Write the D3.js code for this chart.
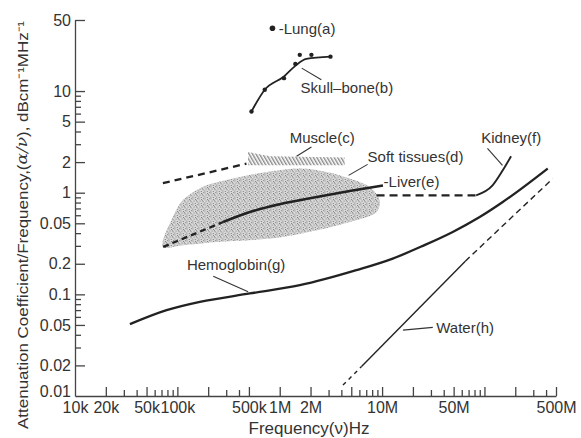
<!DOCTYPE html>
<html>
<head>
<meta charset="utf-8">
<script src="https://cdn.jsdelivr.net/npm/d3@7"></script>
<style>
  html, body { margin: 0; padding: 0; background: #fff; }
  svg { display: block; font-family: "Liberation Sans", Arial, sans-serif; }
</style>
</head>
<body>
<svg id="chart" width="581" height="438"></svg>
<script>
/* Attenuation coefficient / frequency of tissues vs frequency, log-log.
   Values (Hz, dB cm-1 MHz-1). */

// axis ticks
const xLabelValues = [1e4, 2e4, 5e4, 1e5, 5e5, 1e6, 2e6, 1e7, 5e7, 5e8];
const xLabelText   = ['10k', '20k', '50k', '100k', '500k', '1M', '2M', '10M', '50M', '500M'];
const xMajorTicks  = [2e4, 5e4, 1e5, 2e5, 5e5, 1e6, 2e6, 5e6, 1e7, 2e7, 5e7, 1e8, 2e8, 5e8];
const xMinorTicks  = [3e4, 4e4, 6e4, 7e4, 8e4, 9e4, 3e5, 4e5, 3e6, 4e6, 6e6, 7e6, 8e6, 9e6,
                      3e7, 4e7, 6e7, 7e7, 8e7, 9e7, 3e8, 4e8];
const yLabelValues = [50, 10, 5, 2, 1, 0.5, 0.2, 0.1, 0.05, 0.02, 0.01];
const yLabelText   = ['50', '10', '5', '2', '1', '0.05', '0.2', '0.1', '0.05', '0.02', '0.01'];
const yMajorTicks  = [50, 10, 5, 2, 1, 0.5, 0.2, 0.1, 0.05, 0.02];
const yMinorTicks  = [9, 8, 7, 6, 4, 3, 0.9, 0.8, 0.7, 0.6, 0.4, 0.3,
                      0.09, 0.08, 0.07, 0.06, 0.04, 0.03];

// (a) lung
const lungF = [849e3];
const lungV = [41.5];
// (b) skull bone
const skullF = [530e3, 714e3, 1.10e6, 1.43e6, 1.82e6, 3.13e6];
const skullV = [6.3, 10.3, 13.9, 17.8, 20.7, 21.8];
const skullDotF = [530e3, 714e3, 1.10e6, 1.42e6, 1.57e6, 2.04e6, 3.13e6];
const skullDotV = [6.3, 10.3, 13.4, 18.5, 22.7, 22.7, 21.8];
// (c) muscle
const muscleDashF = [72.2e3, 473e3];
const muscleDashV = [1.24, 1.93];
const muscleTopF = [491e3, 800e3, 4.31e6];
const muscleTopV = [2.51, 2.28, 2.22];
const muscleBotF = [4.31e6, 491e3];
const muscleBotV = [1.86, 1.86];
// (d) soft tissues
const softTopF = [72.2e3, 90.4e3, 113e3, 177e3, 348e3, 747e3, 1.57e6, 2.88e6, 4.82e6, 7.55e6, 9.46e6];
const softTopV = [0.293, 0.577, 0.842, 1.14, 1.38, 1.60, 1.73, 1.60, 1.38, 1.14, 0.842];
const softBotF = [8.83e6, 4.82e6, 2.30e6, 1.07e6, 510e3, 243e3, 113e3];
const softBotV = [0.646, 0.515, 0.427, 0.367, 0.341, 0.328, 0.304];
// (e) liver
const liverDashF = [72.7e3, 280e3];
const liverDashV = [0.293, 0.515];
const liverF = [280e3, 510e3, 1.07e6, 2.30e6, 4.82e6, 10.2e6];
const liverV = [0.515, 0.646, 0.782, 0.907, 1.04, 1.18];
// (f) kidney
const kidneyDashF = [8.83e6, 83e6];
const kidneyDashV = [0.943, 0.943];
const kidneyF = [83e6, 120e6, 151e6, 182e6];
const kidneyV = [0.943, 1.18, 1.66, 2.28];
// (g) hemoglobin
const hemoF = [34.4e3, 78.5e3, 166e3, 510e3, 1.57e6, 5.6e6, 12.7e6, 25e6, 49e6, 89e6, 151e6, 415e6];
const hemoV = [0.051, 0.070, 0.0844, 0.102, 0.123, 0.173, 0.225, 0.30, 0.411, 0.573, 0.81, 1.73];
// (h) water
const waterLowF = [4.15e6, 6.3e6];
const waterLowV = [0.0128, 0.0195];
const waterF = [6.3e6, 65e6];
const waterV = [0.0195, 0.212];
const waterHighF = [65e6, 464e6];
const waterHighV = [0.212, 1.375];

// labels (left edge, vertical centre) and leader lines
const labelText = ['-Lung(a)', 'Skull\u2013bone(b)', 'Muscle(c)', 'Soft tissues(d)', '-Liver(e)',
                   'Kidney(f)', 'Hemoglobin(g)', 'Water(h)'];
const labelF = [977e3, 1.60e6, 1.25e6, 7.22e6, 10.35e6, 92.9e6, 124e3, 33.8e6];
const labelV = [41.2, 10.8, 3.50, 2.28, 1.27, 3.46, 0.194, 0.0466];
const leaderF1 = [1.64e6, 1.46e6, 4.71e6, 107e6, 224e3, 16.0e6];
const leaderV1 = [16.8, 2.28, 1.48, 2.73, 0.151, 0.0445];
const leaderF2 = [2.55e6, 2.04e6, 7.22e6, 150e6, 491e3, 31.3e6];
const leaderV2 = [12.9, 2.81, 1.90, 1.86, 0.106, 0.0473];

const INK = '#222';
const TXT = '#333';

const svg = d3.select('#chart');
svg.append('rect').attr('width', 581).attr('height', 438).attr('fill', '#fff');

const x = d3.scaleLog().domain([1e4, 5e8]).range([75, 556]);
const y = d3.scaleLog().domain([0.01, 50]).range([396, 20]);

const pts = (fs, vs) => fs.map((f, i) => [f, vs[i]]);
const straight = d3.line().x(d => x(d[0])).y(d => y(d[1]));
const smooth = d3.line().x(d => x(d[0])).y(d => y(d[1])).curve(d3.curveMonotoneX);
const blob = d3.line().x(d => x(d[0])).y(d => y(d[1])).curve(d3.curveCatmullRomClosed.alpha(0.5));

// textures
const defs = svg.append('defs');
const stip = defs.append('pattern').attr('id', 'stipple')
  .attr('patternUnits', 'userSpaceOnUse').attr('width', 6).attr('height', 6);
stip.append('rect').attr('width', 6).attr('height', 6).attr('fill', '#d9d9d9');
[[0.5, 0.5], [3.2, 1.1], [1.6, 2.6], [4.7, 3.4], [0.4, 4.6], [2.8, 5.0], [5.3, 0.2], [3.9, 2.3]]
  .forEach(p => stip.append('rect').attr('x', p[0]).attr('y', p[1])
    .attr('width', 0.9).attr('height', 0.9).attr('fill', '#666'));
const hatch = defs.append('pattern').attr('id', 'hatch')
  .attr('patternUnits', 'userSpaceOnUse').attr('width', 3).attr('height', 10)
  .attr('patternTransform', 'rotate(-30)');
hatch.append('line').attr('x1', 0.8).attr('x2', 0.8).attr('y1', 0).attr('y2', 10)
  .attr('stroke', '#444').attr('stroke-width', 0.9);

// axes
const gx = svg.append('g').attr('transform', 'translate(0,396)');
gx.append('g').call(d3.axisBottom(x).tickValues(xMinorTicks).tickSize(-6).tickSizeOuter(0).tickFormat(''))
  .call(g => g.select('.domain').remove());
gx.append('g').call(d3.axisBottom(x).tickValues(xMajorTicks).tickSize(-9).tickSizeOuter(0).tickFormat(''));
gx.append('g').call(d3.axisBottom(x).tickValues(xLabelValues).tickSize(0).tickPadding(5.5)
    .tickFormat((d, i) => xLabelText[i]))
  .call(g => g.select('.domain').remove());

const gy = svg.append('g').attr('transform', 'translate(75,0)');
gy.append('g').call(d3.axisLeft(y).tickValues(yMinorTicks).tickSize(-6).tickSizeOuter(0).tickFormat(''))
  .call(g => g.select('.domain').remove());
gy.append('g').call(d3.axisLeft(y).tickValues(yMajorTicks).tickSize(-10).tickSizeOuter(0).tickFormat(''));
gy.append('g').attr('class', 'ylabels')
  .call(d3.axisLeft(y).tickValues(yLabelValues).tickSize(0).tickPadding(4)
    .tickFormat((d, i) => yLabelText[i]))
  .call(g => g.select('.domain').remove());
// lift the bottom label off the x labels, as in the reference
gy.select('.ylabels').selectAll('.tick').filter(d => d === 0.01).select('text').attr('dy', '0.05em');

svg.selectAll('.domain, .tick line').attr('stroke', '#444').attr('stroke-width', 1.3);
svg.selectAll('.tick text').attr('fill', TXT).style('font-size', '16px')
  .style('font-family', '"Liberation Sans", Arial, sans-serif');

// axis titles
svg.append('text').attr('x', 309).attr('y', 434).attr('text-anchor', 'middle')
  .attr('fill', TXT).style('font-size', '17px').text('Frequency(\u03bd)Hz');

const yt = svg.append('text').attr('transform', 'translate(22,225) rotate(-90)')
  .attr('text-anchor', 'middle').attr('dominant-baseline', 'central')
  .attr('fill', TXT).style('font-size', '15px')
  .attr('textLength', 408).attr('lengthAdjust', 'spacingAndGlyphs');
yt.append('tspan').text('Attenuation Coefficient/Frequency,(');
yt.append('tspan').style('font-style', 'italic').style('font-family', '"DejaVu Serif", serif')
  .text('\u03b1/\u03bd');
yt.append('tspan').text('), dBcm\u207b\u00b9MHz\u207b\u00b9');

// soft tissues (d)
svg.append('path')
  .attr('d', blob(pts(softTopF, softTopV).concat(pts(softBotF, softBotV))))
  .attr('fill', 'url(#stipple)');

// muscle (c)
svg.append('path')
  .attr('d', straight(pts(muscleTopF, muscleTopV).concat(pts(muscleBotF, muscleBotV))) + 'Z')
  .attr('fill', 'url(#hatch)');
svg.append('path').attr('d', straight(pts(muscleDashF, muscleDashV)))
  .attr('fill', 'none').attr('stroke', INK).attr('stroke-width', 2.3).attr('stroke-dasharray', '7,5');

// liver (e)
svg.append('path').attr('d', straight(pts(liverDashF, liverDashV)))
  .attr('fill', 'none').attr('stroke', INK).attr('stroke-width', 2.3).attr('stroke-dasharray', '6,4');
svg.append('path').attr('d', smooth(pts(liverF, liverV)))
  .attr('fill', 'none').attr('stroke', INK).attr('stroke-width', 2.5);

// kidney (f)
svg.append('path').attr('d', straight(pts(kidneyDashF, kidneyDashV)))
  .attr('fill', 'none').attr('stroke', INK).attr('stroke-width', 2.2).attr('stroke-dasharray', '8,5');
svg.append('path').attr('d', smooth(pts(kidneyF, kidneyV)))
  .attr('fill', 'none').attr('stroke', INK).attr('stroke-width', 1.9);

// hemoglobin (g)
svg.append('path').attr('d', smooth(pts(hemoF, hemoV)))
  .attr('fill', 'none').attr('stroke', INK).attr('stroke-width', 2.3);

// water (h)
[[waterLowF, waterLowV, '4,4'], [waterF, waterV, null], [waterHighF, waterHighV, '6,4']]
  .forEach(s => svg.append('path').attr('d', straight(pts(s[0], s[1])))
    .attr('fill', 'none').attr('stroke', INK).attr('stroke-width', 1.4)
    .attr('stroke-dasharray', s[2]));

// skull bone (b) and lung (a)
svg.append('path').attr('d', smooth(pts(skullF, skullV)))
  .attr('fill', 'none').attr('stroke', INK).attr('stroke-width', 1.8);
svg.selectAll('circle.skull').data(pts(skullDotF, skullDotV)).join('circle')
  .attr('class', 'skull').attr('cx', d => x(d[0])).attr('cy', d => y(d[1])).attr('r', 2.2).attr('fill', INK);
svg.selectAll('circle.lung').data(pts(lungF, lungV)).join('circle')
  .attr('class', 'lung').attr('cx', d => x(d[0])).attr('cy', d => y(d[1])).attr('r', 2.8).attr('fill', INK);

// leaders and labels
svg.selectAll('line.leader').data(leaderF1).join('line').attr('class', 'leader')
  .attr('x1', (d, i) => x(leaderF1[i])).attr('y1', (d, i) => y(leaderV1[i]))
  .attr('x2', (d, i) => x(leaderF2[i])).attr('y2', (d, i) => y(leaderV2[i]))
  .attr('stroke', '#333').attr('stroke-width', 1.1);
svg.selectAll('text.lbl').data(labelText).join('text').attr('class', 'lbl')
  .attr('x', (d, i) => x(labelF[i])).attr('y', (d, i) => y(labelV[i])).attr('dy', '0.35em')
  .attr('fill', TXT).style('font-size', '15px').text(d => d);
</script>
</body>
</html>
